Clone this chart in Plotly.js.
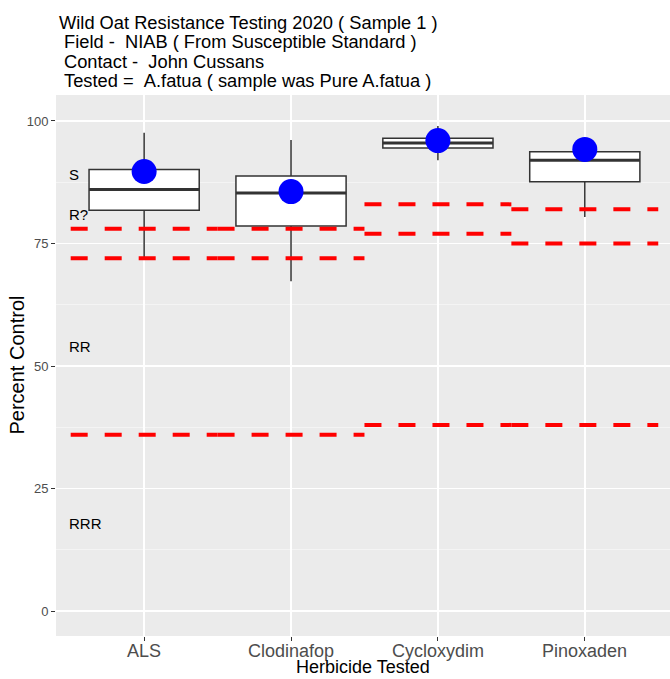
<!DOCTYPE html>
<html>
<head>
<meta charset="utf-8">
<script src="https://cdn.plot.ly/plotly-3.0.1.min.js"></script>
<style>html,body{margin:0;padding:0;background:#fff;}#chart{width:670px;height:679px;}</style>
</head>
<body>
<div id="chart"></div>
<script>
// Data
var herbicides = ["ALS", "Clodinafop", "Cycloxydim", "Pinoxaden"];
var whiskerLow  = [72.0, 67.3, 92.0, 80.4];
var q1          = [81.8, 78.6, 94.5, 87.6];
var medians     = [86.0, 85.3, 95.5, 92.0];
var q3          = [90.1, 88.8, 96.5, 93.7];
var whiskerHigh = [97.6, 96.1, 99.0, 96.1];
var sampleValue = [89.7, 85.6, 96.0, 94.2];
var thresholdS   = [78, 78, 83, 82];
var thresholdR   = [72, 72, 77, 75];
var thresholdRRR = [36, 36, 38, 38];
var zoneLabels = ["S", "R?", "RR", "RRR"];
var zoneLabelY = [89, 81, 54, 18];
var yTicks = [0, 25, 50, 75, 100];
var titleLines = [
  "Wild Oat Resistance Testing 2020 ( Sample 1 )",
  "Field - &nbsp;NIAB ( From Susceptible Standard )",
  "Contact - &nbsp;John Cussans",
  "Tested = &nbsp;A.fatua ( sample was Pure A.fatua )"
];
var xTitle = "Herbicide Tested";
var yTitle = "Percent Control";

var idx = herbicides.map(function(_, i){ return i; });
var traces = [];

// red dashed threshold segments
[thresholdS, thresholdR, thresholdRRR].forEach(function(arr){
  arr.forEach(function(v, i){
    traces.push({
      type: "scatter", mode: "lines",
      x: [i - 0.5, i + 0.5], y: [v, v],
      line: {color: "#ff0000", width: 4, dash: "17px,17px"},
      hoverinfo: "skip", showlegend: false
    });
  });
});

// boxes
traces.push({
  type: "box",
  x: idx,
  q1: q1, median: medians, q3: q3,
  lowerfence: whiskerLow, upperfence: whiskerHigh,
  width: 0.75,
  whiskerwidth: 0,
  fillcolor: "#ffffff",
  line: {color: "#333333", width: 1.5},
  showlegend: false,
  hoverinfo: "skip"
});

// thicker median lines
medians.forEach(function(m, i){
  traces.push({
    type: "scatter", mode: "lines",
    x: [i - 0.375, i + 0.375], y: [m, m],
    line: {color: "#333333", width: 3},
    hoverinfo: "skip", showlegend: false
  });
});

// sample points
traces.push({
  type: "scatter", mode: "markers",
  x: idx, y: sampleValue,
  marker: {color: "#0000ff", size: 25},
  showlegend: false
});

var FONT = "Liberation Sans, Arial, sans-serif";
var plotTop = 95, plotB = 43, plotH = 679 - plotTop - plotB, plotL = 56, plotW = 670 - plotL;
function py(px){ return 1 + (plotTop - px) / plotH; }
function pxX(px){ return (px - plotL) / plotW; }

var annotations = zoneLabels.map(function(t, i){
  return {
    x: -0.525, y: zoneLabelY[i], xref: "x", yref: "y",
    text: t, showarrow: false, xanchor: "left", yanchor: "middle",
    font: {family: FONT, size: 15, color: "#000000"}
  };
});

// x tick labels
herbicides.forEach(function(h, i){
  annotations.push({
    x: i, xref: "x", y: py(651), yref: "paper",
    text: h, showarrow: false, xanchor: "center", yanchor: "middle",
    font: {family: FONT, size: 18, color: "#4d4d4d"}
  });
});

// axis titles
annotations.push({
  x: 0.5, xref: "paper", y: py(667), yref: "paper",
  text: xTitle, showarrow: false, xanchor: "center", yanchor: "middle",
  borderpad: 0,
  font: {family: FONT, size: 18, color: "#000000"}
});
annotations.push({
  x: pxX(16), xref: "paper", y: 0.5, yref: "paper",
  text: yTitle, textangle: -90, showarrow: false, xanchor: "center", yanchor: "middle",
  font: {family: FONT, size: 20, color: "#000000"}
});

// title lines
var lineCenters = [22, 41.5, 61, 80.5];
titleLines.forEach(function(t, i){
  annotations.push({
    xref: "paper", yref: "paper",
    x: pxX(i === 0 ? 57 : 62),
    y: py(lineCenters[i]),
    xanchor: "left", yanchor: "middle",
    text: t, showarrow: false,
    font: {family: FONT, size: 18.3, color: "#000000"}
  });
});

var layout = {
  width: 670, height: 679,
  paper_bgcolor: "#ffffff",
  plot_bgcolor: "#ebebeb",
  margin: {l: plotL, r: 0, t: plotTop, b: plotB},
  font: {family: FONT},
  xaxis: {
    range: [-0.6, 3.58],
    tickvals: idx, ticktext: herbicides.map(function(){ return ""; }),
    showgrid: true, gridcolor: "#ffffff", gridwidth: 1.5,
    zeroline: false,
    ticks: "outside", ticklen: 4, tickcolor: "#333333", tickwidth: 1,
    showline: false
  },
  yaxis: {
    range: [-5.05, 105.3],
    tickvals: yTicks,
    showgrid: true, gridcolor: "#ffffff", gridwidth: 1.5,
    zeroline: false,
    ticks: "outside", ticklen: 4, tickcolor: "#333333", tickwidth: 1,
    tickfont: {size: 13, color: "#4d4d4d"},
    minor: {tick0: 12.5, dtick: 25, showgrid: true, gridcolor: "#f6f6f6", gridwidth: 0.8, ticks: ""},
    showline: false
  },
  annotations: annotations,
  showlegend: false
};

Plotly.newPlot("chart", traces, layout, {displayModeBar: false, staticPlot: true});
</script>
</body>
</html>
